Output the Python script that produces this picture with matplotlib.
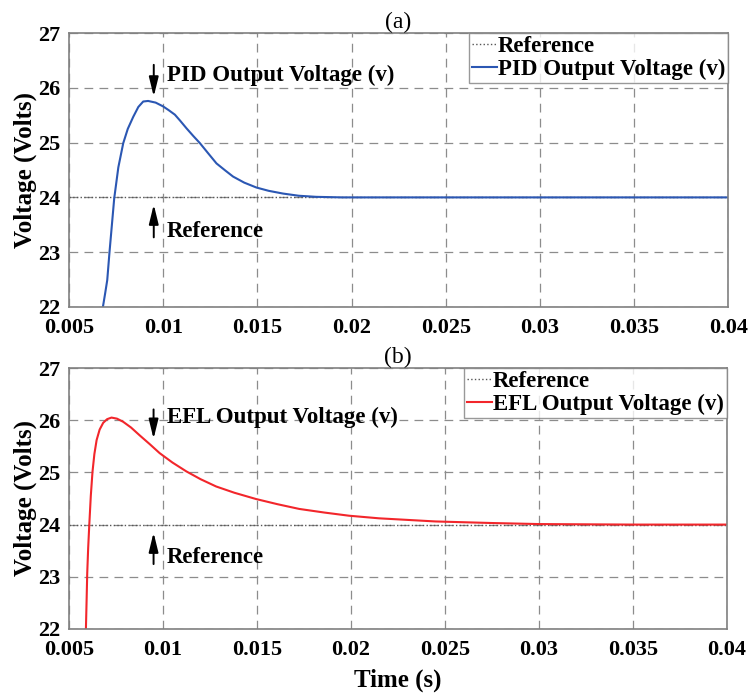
import matplotlib.pyplot as plt  # used for graphing

plt.rcParams['font.family'] = ['Liberation Serif', 'DejaVu Serif']

# time axis ticks
xticks = [0.005, 0.01, 0.015, 0.02, 0.025, 0.03, 0.035, 0.04]
xlabels = ['0.005', '0.01', '0.015', '0.02', '0.025', '0.03', '0.035', '0.04']
yticks = [22, 23, 24, 25, 26, 27]

# reference voltage
ref_t = [0.005, 0.04]
ref_v = [24.0, 24.0]

# PID output voltage
pid_t = [0.0068, 0.00692, 0.00703, 0.00715, 0.0074, 0.00762, 0.00788, 0.00812, 0.00841, 0.00868,
         0.00894, 0.0092, 0.0096, 0.0100, 0.0103, 0.01062, 0.0109, 0.01124, 0.0116, 0.01195,
         0.0124, 0.01283, 0.0133, 0.01371, 0.0143, 0.01495, 0.0156, 0.01636, 0.0172, 0.01813,
         0.0195, 0.021, 0.025, 0.03, 0.035, 0.04]
pid_v = [22.0, 22.25, 22.49, 23.0, 23.98, 24.55, 24.99, 25.25, 25.47, 25.65,
         25.75, 25.76, 25.73, 25.66, 25.59, 25.51, 25.40, 25.26, 25.12, 24.99,
         24.80, 24.62, 24.49, 24.38, 24.27, 24.18, 24.12, 24.07, 24.03, 24.01,
         24.0, 24.0, 24.0, 24.0, 24.0, 24.0]

# EFL output voltage
efl_t = [0.0059, 0.00594, 0.00597, 0.00602, 0.00608, 0.00616, 0.00625, 0.00635, 0.00647, 0.00663,
         0.00682, 0.00703, 0.00726, 0.00755, 0.00788, 0.0083, 0.00876, 0.0093, 0.00982, 0.0105,
         0.01124, 0.012, 0.01283, 0.0138, 0.01495, 0.0161, 0.01725, 0.0186, 0.0199, 0.0215,
         0.0245, 0.0275, 0.030, 0.035, 0.04]
efl_v = [22.0, 22.6, 23.07, 23.55, 24.0, 24.55, 25.01, 25.35, 25.62, 25.82,
         25.95, 26.02, 26.05, 26.03, 25.97, 25.86, 25.71, 25.54, 25.37, 25.19,
         25.02, 24.87, 24.73, 24.61, 24.49, 24.39, 24.30, 24.23, 24.17, 24.12,
         24.06, 24.03, 24.01, 24.0, 24.0]

panels = [
    ('(a)', pid_t, pid_v, '#2b57b3', 'PID Output Voltage (v)',
     [0.092, 0.5583, 0.879, 0.3942], (0.0095, 26.47, 25.79), (0.0095, 23.22, 23.92), 26.23),
    ('(b)', efl_t, efl_v, '#f2262b', 'EFL Output Voltage (v)',
     [0.092, 0.095, 0.877, 0.3755], (0.0095, 26.26, 25.59), (0.0095, 23.19, 23.9), 26.06),
]

fig = plt.figure(figsize=(7.5, 6.95), dpi=100)

for title, t, v, color, name, rect, down, up, ytext in panels:
    ax = fig.add_axes(rect)
    ax.plot(ref_t, ref_v, ':', color='#555555', linewidth=1.0, label='Reference')
    ax.plot(t, v, '-', color=color, linewidth=1.5, label=name)
    ax.set_xlim(0.005, 0.04)
    ax.set_ylim(22, 27)
    ax.set_xticks(xticks)
    ax.set_xticklabels(xlabels)
    ax.set_yticks(yticks)
    ax.tick_params(length=0, labelsize=16)
    ax.tick_params(axis='x', pad=8)
    ax.tick_params(axis='y', pad=6)
    for lab in ax.get_xticklabels() + ax.get_yticklabels():
        lab.set_fontweight('bold')
    ax.grid(True, linestyle=(0, (7, 5)), color='#8c8c8c', linewidth=0.9)
    for s in ax.spines.values():
        s.set_color('#808080')
        s.set_linewidth(1.2)
    ax.set_title(title, fontsize=17, pad=3)
    ax.set_ylabel('Voltage (Volts)', fontsize=18, fontweight='bold', labelpad=1)

    # arrows and labels
    arrow = dict(arrowstyle='-|>,head_width=0.22,head_length=0.9', color='black', lw=1.4, mutation_scale=13)
    ax.annotate('', xy=(down[0], down[2]), xytext=(down[0], down[1]), arrowprops=arrow)
    ax.annotate('', xy=(up[0], up[2]), xytext=(up[0], up[1]), arrowprops=arrow)
    ax.text(0.0102, ytext, name, fontsize=16.5, fontweight='bold', va='center', ha='left')
    ax.text(0.0102, 23.37, 'Reference', fontsize=16.5, fontweight='bold', va='center', ha='left')

    leg = ax.legend(loc='upper right', prop={'weight': 'bold', 'size': 16.5},
                    frameon=True, fancybox=False, borderaxespad=0, borderpad=0.12,
                    handlelength=1.1, handletextpad=0.05, labelspacing=0.08)
    leg.get_frame().set_edgecolor('#808080')
    leg.get_frame().set_linewidth(1.0)

ax.set_xlabel('Time (s)', fontsize=18, fontweight='bold', labelpad=6)

plt.savefig('out.png', dpi=100)
